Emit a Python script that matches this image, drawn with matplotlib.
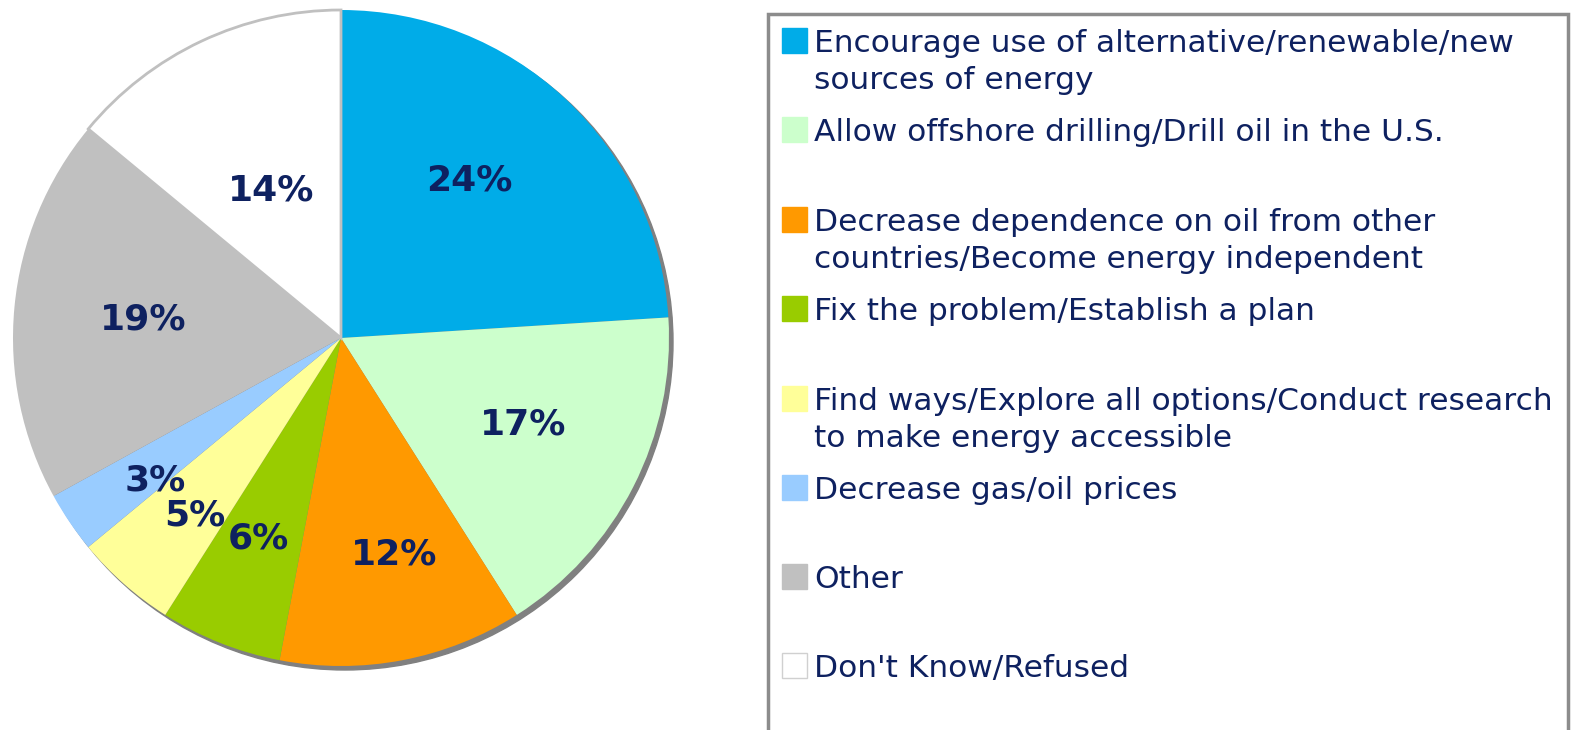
import numpy as np
import matplotlib.pyplot as plt
from matplotlib.patches import Rectangle, Circle

# survey answers, clockwise from 12 o'clock
labels = [
    "Encourage use of alternative/renewable/new\nsources of energy",
    "Allow offshore drilling/Drill oil in the U.S.",
    "Decrease dependence on oil from other\ncountries/Become energy independent",
    "Fix the problem/Establish a plan",
    "Find ways/Explore all options/Conduct research\nto make energy accessible",
    "Decrease gas/oil prices",
    "Other",
    "Don't Know/Refused",
]
shares = [24, 17, 12, 6, 5, 3, 19, 14]
colors = ["#00ACE8", "#CCFFCC", "#FF9900", "#99CC00", "#FFFF99", "#99CCFF", "#C0C0C0", "#FFFFFF"]

# where each percentage sits: fraction of radius, nudge in degrees
label_dist = [0.62, 0.615, 0.68, 0.66, 0.70, 0.715, 0.607, 0.497]
label_nudge = [4.0, 1.5, 2.9, -0.7, 1.9, 3.2, 0.0, 0.0]
# top of each legend marker, pixels from the top
legend_top = [28, 117, 207, 296, 386, 475, 564, 653]

W, H = 1571, 730
navy = "#0E2160"

fig = plt.figure(figsize=(W / 100, H / 100), dpi=100)
ax = fig.add_axes([0, 0, 1, 1])

cx, cy, r = 341, H - 338, 328

# drop shadow behind the pie
ax.add_patch(Circle((cx + 4, cy - 4), r, color="#808080", zorder=0))

wedges, texts, autotexts = ax.pie(
    shares, colors=colors, startangle=90, counterclock=False,
    center=(cx, cy), radius=r, autopct="%d%%", pctdistance=0.6,
    wedgeprops=dict(linewidth=0), frame=True,
    textprops=dict(color=navy, fontsize=26, fontweight="bold"),
)
wedges[-1].set_edgecolor("#C0C0C0")
wedges[-1].set_linewidth(2)

for w, t, v, d, nudge in zip(wedges, autotexts, shares, label_dist, label_nudge):
    ang = np.deg2rad((w.theta1 + w.theta2) / 2 + nudge)
    t.set_position((cx + d * r * np.cos(ang), cy + d * r * np.sin(ang)))
    t.set_text(f"{v}%")

# legend box, open at the bottom edge
ax.add_patch(Rectangle((768, -20), 1568 - 768, (H - 14) + 20,
                       facecolor="none", edgecolor="#8C8C8C", linewidth=2.5, zorder=3))

for lab, col, top in zip(labels, colors, legend_top):
    ax.add_patch(Rectangle((782, H - top - 25), 25, 25, facecolor=col,
                           edgecolor="#D0D0D0" if col == "#FFFFFF" else col,
                           linewidth=1, zorder=3))
    for i, line in enumerate(lab.split("\n")):
        ax.text(814, H - top - 24 - 37 * i, line, color=navy, fontsize=22.5,
                va="baseline", ha="left")

ax.set_xlim(0, W)
ax.set_ylim(0, H)
ax.set_aspect("auto")
ax.axis("off")

fig.savefig("out.png", dpi=100)
